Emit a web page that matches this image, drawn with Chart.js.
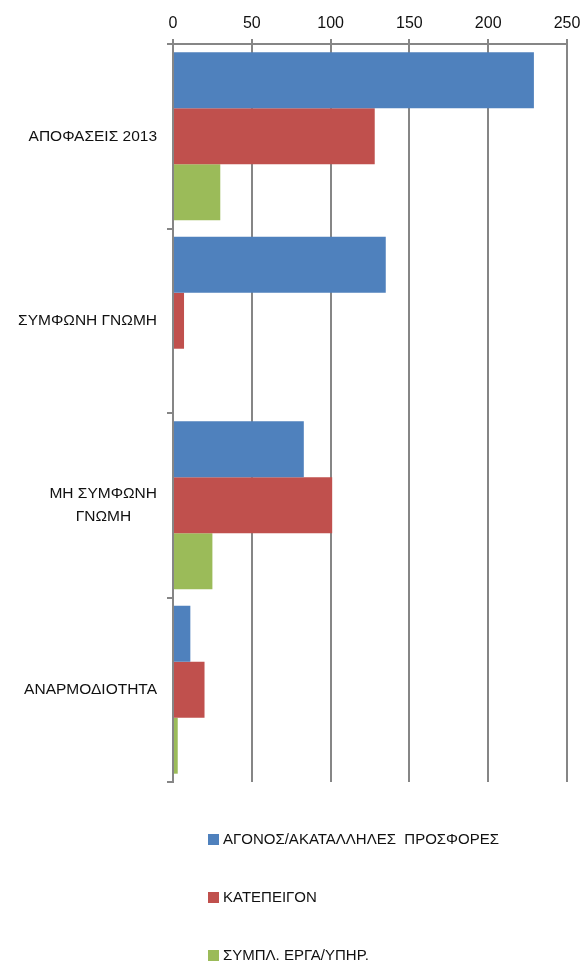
<!DOCTYPE html>
<html>
<head>
<meta charset="utf-8">
<script src="https://cdn.jsdelivr.net/npm/chart.js@4/dist/chart.umd.min.js"></script>
<style>
	body { margin: 0; background: #fff; }
	#wrap { position: relative; width: 583px; height: 962px; }
	#legend { position: absolute; left: 208px; top: 810px; margin: 0; padding: 0; list-style: none;
		font-family: "Liberation Sans", Arial, sans-serif; font-size: 15px; color: #111; }
	#legend li { height: 58px; line-height: 58px; white-space: pre; }
	#legend span.box { display: inline-block; width: 11px; height: 11px; margin-right: 4px; vertical-align: -1px; }
</style>
</head>
<body>
<div id="wrap">
	<canvas id="chart" width="583" height="962"></canvas>
	<ul id="legend"></ul>
</div>
<script>
// chart data
var categories = ['ΑΠΟΦΑΣΕΙΣ 2013', 'ΣΥΜΦΩΝΗ ΓΝΩΜΗ', ['ΜΗ ΣΥΜΦΩΝΗ', 'ΓΝΩΜΗ'], 'ΑΝΑΡΜΟΔΙΟΤΗΤΑ'];
var seriesNames = ['ΑΓΟΝΟΣ/ΑΚΑΤΑΛΛΗΛΕΣ  ΠΡΟΣΦΟΡΕΣ', 'ΚΑΤΕΠΕΙΓΟΝ', 'ΣΥΜΠΛ. ΕΡΓΑ/ΥΠΗΡ.'];
var agonos     = [229, 135, 83, 11];
var katepeigon = [128, 7, 101, 20];
var sympl      = [30, 0, 25, 3];
var xTicks     = [0, 50, 100, 150, 200, 250];

var colors = ['#4F81BD', '#C0504D', '#9BBB59'];
var gridColor = '#868686';
var labelFont = { family: '"Liberation Sans", Arial, sans-serif', size: 15.5 };

// centre the lines of a multi-line label by padding the short ones
var measureCtx = document.createElement('canvas').getContext('2d');
measureCtx.font = labelFont.size + 'px ' + labelFont.family;
function centreLines(label) {
	if (!Array.isArray(label)) return label;
	var widest = Math.max.apply(null, label.map(function(l) { return measureCtx.measureText(l).width; }));
	var sp = measureCtx.measureText('\u00a0').width;
	return label.map(function(l) {
		var n = Math.round((widest - measureCtx.measureText(l).width) / 2 / sp);
		return l + '\u00a0'.repeat(n);
	});
}

var htmlLegend = {
	id: 'htmlLegend',
	afterUpdate: function(chart) {
		var ul = document.getElementById('legend');
		ul.innerHTML = '';
		chart.data.datasets.forEach(function(ds) {
			var li = document.createElement('li');
			var box = document.createElement('span');
			box.className = 'box';
			box.style.background = ds.backgroundColor;
			li.appendChild(box);
			li.appendChild(document.createTextNode(ds.label));
			ul.appendChild(li);
		});
	}
};

var ctx = document.getElementById('chart').getContext('2d');
var chart = new Chart(ctx, {
	type: 'bar',
	data: {
		labels: categories,
		datasets: [
			{ label: seriesNames[0], data: agonos, backgroundColor: colors[0] },
			{ label: seriesNames[1], data: katepeigon, backgroundColor: colors[1] },
			{ label: seriesNames[2], data: sympl, backgroundColor: colors[2] }
		]
	},
	options: {
		indexAxis: 'y',
		responsive: false,
		animation: false,
		devicePixelRatio: 1,
		layout: { padding: { left: 0, right: 16, top: 0, bottom: 180 } },
		datasets: {
			bar: { categoryPercentage: 0.91, barPercentage: 1.0, borderWidth: 0 }
		},
		scales: {
			x: {
				position: 'top',
				min: 0,
				max: 250,
				afterBuildTicks: function(scale) {
					scale.ticks = xTicks.map(function(v) { return { value: v }; });
				},
				afterFit: function(scale) {
					scale.height = 44;
					// let the layout padding alone decide the right edge
					scale.paddingLeft = 0;
					scale.paddingRight = 0;
				},
				grid: { color: gridColor, lineWidth: 2, tickLength: 5, drawOnChartArea: true },
				border: { display: true, color: gridColor, width: 2 },
				ticks: { color: '#111', font: { family: labelFont.family, size: 16 }, padding: 6 }
			},
			y: {
				afterFit: function(scale) { scale.width = 173; },
				grid: { color: gridColor, lineWidth: 2, tickLength: 6, drawOnChartArea: false, offset: true },
				border: { display: true, color: gridColor, width: 2 },
				ticks: {
					color: '#111',
					font: { family: labelFont.family, size: labelFont.size, lineHeight: 1.45 },
					padding: 10,
					callback: function(value) { return centreLines(this.getLabelForValue(value)); }
				}
			}
		},
		plugins: {
			legend: { display: false },
			tooltip: { enabled: false }
		}
	},
	plugins: [htmlLegend]
});
</script>
</body>
</html>
